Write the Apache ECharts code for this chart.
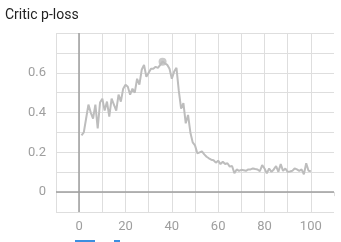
<!DOCTYPE html>
<html>
<head>
<meta charset="utf-8">
<script src="https://cdn.jsdelivr.net/npm/echarts@6/dist/echarts.min.js"></script>
<style>
html,body{margin:0;padding:0;background:#fff;}
#chart{width:341px;height:242px;}
</style>
</head>
<body>
<div id="chart"></div>
<script>
const title = "Critic p-loss";
const steps = [1,2,3,4,5,6,7,8,9,10,11,12,13,14,15,16,17,18,19,20,21,22,23,24,25,26,27,28,29,30,31,32,33,34,35,36,37,38,39,40,41,42,43,44,45,46,47,48,49,50,51,52,53,54,55,56,57,58,59,60,61,62,63,64,65,66,67,68,69,70,71,72,73,74,75,76,77,78,79,80,81,82,83,84,85,86,87,88,89,90,91,92,93,94,95,96,97,98,99,100];
const loss = [0.285,0.30,0.37,0.44,0.40,0.37,0.44,0.32,0.45,0.47,
0.41,0.455,0.38,0.47,0.44,0.41,0.49,0.455,0.52,0.54,
0.53,0.49,0.52,0.50,0.57,0.54,0.615,0.64,0.58,0.60,
0.62,0.62,0.63,0.625,0.64,0.656,0.648,0.64,0.62,0.57,
0.606,0.625,0.51,0.42,0.447,0.346,0.388,0.30,0.25,0.235,
0.195,0.20,0.205,0.19,0.178,0.17,0.163,0.16,0.148,0.158,
0.141,0.153,0.141,0.145,0.128,0.131,0.095,0.114,0.107,0.112,
0.11,0.107,0.114,0.114,0.119,0.116,0.114,0.105,0.136,0.119,
0.094,0.119,0.102,0.114,0.131,0.102,0.141,0.107,0.119,0.102,
0.104,0.107,0.119,0.114,0.107,0.114,0.089,0.145,0.107,0.105];
const highlightStep = 36;
const xTickLabels = [0,20,40,60,80,100];
const yTickLabels = [0,0.2,0.4,0.6];

const chart = echarts.init(document.getElementById('chart'), null, {renderer:'canvas'});
const lineData = steps.map((s,i)=>[s, loss[i]]);
const hi = [[highlightStep, loss[steps.indexOf(highlightStep)]]];
const inList = (arr,v)=>arr.some(a=>Math.abs(a-v)<1e-6);
const gridCol = '#dedede';
const xSplitColors = [];
for (let v=-10; v<=110; v+=10) xSplitColors.push(v===110 ? 'rgba(0,0,0,0)' : gridCol);

chart.setOption({
  animation:false,
  title:{text:title,left:5,top:8,padding:0,textStyle:{fontFamily:'Roboto',fontSize:14,fontWeight:'normal',color:'#212121'}},
  grid:{left:56,right:7,top:33,bottom:30,containLabel:false},
  xAxis:{type:'value',min:-10,max:110,interval:10,
    axisLine:{show:false},
    axisTick:{show:true,length:4,lineStyle:{color:gridCol}},
    axisLabel:{margin:8,color:'#9e9e9e',fontFamily:'Roboto',fontSize:13,
      formatter:v=>inList(xTickLabels,v)?String(v):''},
    splitLine:{show:true,lineStyle:{color:xSplitColors,width:1}}},
  yAxis:{type:'value',min:-0.1,max:0.8,interval:0.1,
    axisLine:{show:false},
    axisTick:{show:true,length:5,lineStyle:{color:gridCol}},
    axisLabel:{margin:10,color:'#9e9e9e',fontFamily:'Roboto',fontSize:13,
      formatter:v=>inList(yTickLabels,v)?String(Math.round(v*10)/10):''},
    splitLine:{show:true,lineStyle:{color:gridCol,width:1}}},
  series:[
    {type:'line',data:lineData,showSymbol:false,symbol:'none',
     lineStyle:{color:'#bdbdbd',width:2},silent:true,z:3,
     markLine:{silent:true,symbol:'none',label:{show:false},
       lineStyle:{color:'#9e9e9e',width:1.5,type:'solid'},
       data:[{xAxis:0},{yAxis:0}]}},
    {type:'scatter',data:hi,symbol:'circle',symbolSize:8,
     itemStyle:{color:'#bdbdbd'},silent:true,z:4}
  ],
  graphic:[
    {type:'rect',shape:{x:75,y:240,width:20,height:2},style:{fill:'#3b8fe0'}},
    {type:'rect',shape:{x:114,y:240,width:6,height:2},style:{fill:'#3b8fe0'}}
  ]
});
</script>
</body>
</html>
